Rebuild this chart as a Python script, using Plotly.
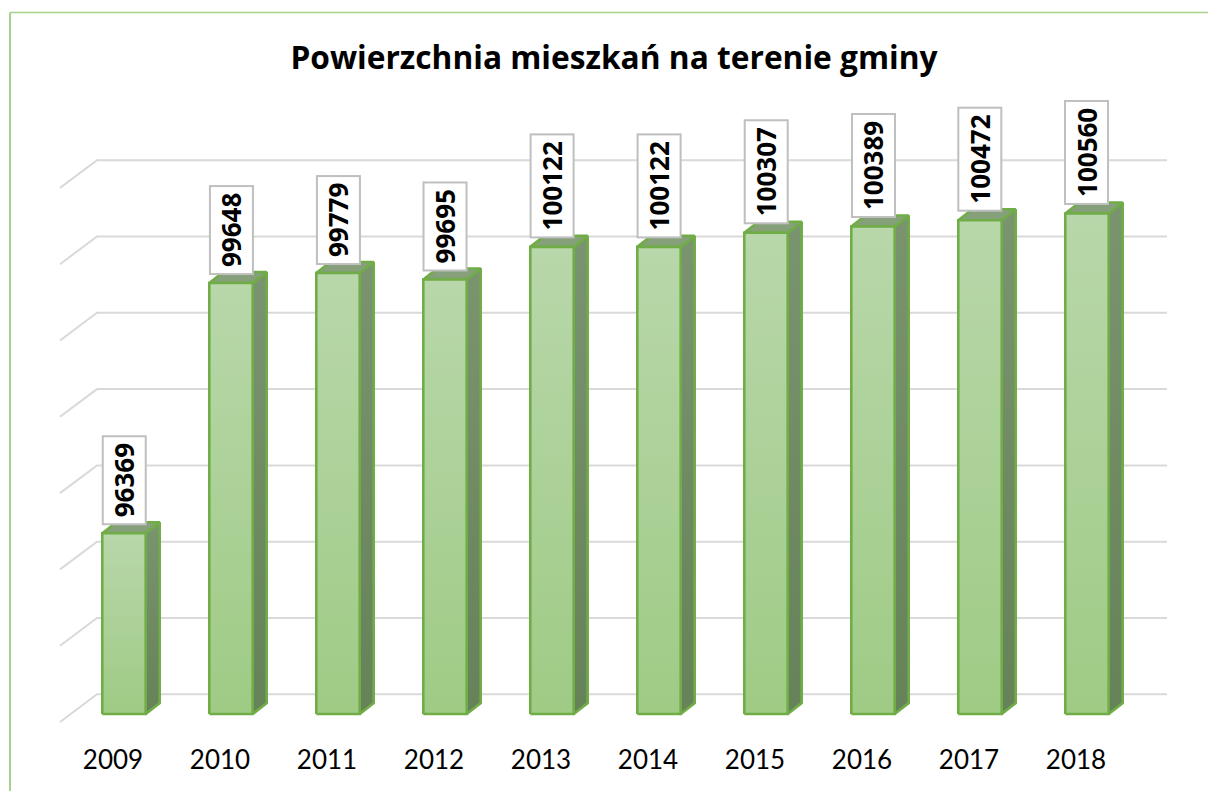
import plotly.graph_objects as go

years = ["2009", "2010", "2011", "2012", "2013", "2014", "2015", "2016", "2017", "2018"]
values = [96369, 99648, 99779, 99695, 100122, 100122, 100307, 100389, 100472, 100560]
grid_values = [94000, 95000, 96000, 97000, 98000, 99000, 100000, 101000]
title = "Powierzchnia mieszkań na terenie gminy"

W, H = 1208, 791
STEP = 107.0          # px per category
SCALE = 0.0763        # px per unit
X0 = 113.0            # px of the first category label
Y0 = 714.0            # px of the axis base
BOTTOM = 735.0        # px of plot area bottom
base = grid_values[0]
px_x = 1 / STEP
px_y = 1 / SCALE

bar_shift = 11 * px_x
bar_half = 21.7 * px_x
depth_x = 14 * px_x
depth_y = 11 * px_y
wall_y = 19.7 * px_y
wall_left = (97 - X0) * px_x
floor_left = (60 - X0) * px_x
wall_right = (1167 - X0) * px_x
floor_drop = 8 * px_y

GREEN = "#70AD47"
fig = go.Figure()

for g in grid_values:
    fig.add_trace(go.Scatter(
        x=[floor_left, wall_left, wall_right],
        y=[g - floor_drop, g + wall_y, g + wall_y],
        mode="lines", line=dict(color="#D9D9D9", width=2),
        hoverinfo="skip", showlegend=False))

def face(xs, ys, top, bottom):
    fig.add_trace(go.Scatter(
        x=xs, y=ys, mode="lines", fill="toself",
        line=dict(color=GREEN, width=2.6),
        fillgradient=dict(type="vertical", colorscale=[[0, bottom], [1, top]]),
        hoverinfo="skip", showlegend=False))

for i, v in enumerate(values):
    c = i + bar_shift
    l, r = c - bar_half, c + bar_half
    face([r, r + depth_x, r + depth_x, r, r],
         [base, base + depth_y, v + depth_y, v, base], "#7A9470", "#668258")
    face([l, l + depth_x, r + depth_x, r, l],
         [v, v + depth_y, v + depth_y, v, v], "#88A07D", "#84A078")
    face([l, r, r, l, l], [base, base, v, v, base], "#B8D7AA", "#9FCB85")

for i, v in enumerate(values):
    fig.add_annotation(
        x=i + bar_shift, y=v, xref="x", yref="y", text=f"<b>{v}</b>",
        textangle=-90, showarrow=False, yanchor="bottom", xanchor="center",
        yshift=8, bgcolor="white", bordercolor="#BFBFBF", borderwidth=2,
        borderpad=6, height=29, font=dict(family="Open Sans", size=26, color="black"))

# chart-area border on the left and top
fig.add_shape(type="line", xref="paper", yref="paper", x0=10 / W, x1=10 / W,
              y0=-0.1, y1=1 - 13.5 / H, line=dict(color="#A9D18E", width=2))
fig.add_shape(type="line", xref="paper", yref="paper", x0=10 / W, x1=1,
              y0=1 - 13.5 / H, y1=1 - 13.5 / H, line=dict(color="#A9D18E", width=1.5))

fig.update_layout(
    width=W, height=H, autosize=False,
    paper_bgcolor="white", plot_bgcolor="white",
    margin=dict(l=0, r=0, t=0, b=H - BOTTOM),
    showlegend=False,
    title=dict(text=f"<b>{title}</b>", x=614 / W, xanchor="center", xref="paper",
               y=1 - 58 / H, yanchor="middle", yref="container",
               font=dict(family="Open Sans", size=31.7, color="black")),
    xaxis=dict(range=[-X0 * px_x, (W - X0) * px_x], tickvals=list(range(len(years))),
               ticktext=years, showgrid=False, zeroline=False, showline=False,
               ticks="", tickfont=dict(family="Lato", size=26, color="black"),
               tickangle=0, ticklabelstandoff=7),
    yaxis=dict(range=[base + (Y0 - BOTTOM) * px_y, base + Y0 * px_y], visible=False),
)
fig.write_html("out.html", config={"displayModeBar": False},
               post_script="document.body.style.margin='0';")
